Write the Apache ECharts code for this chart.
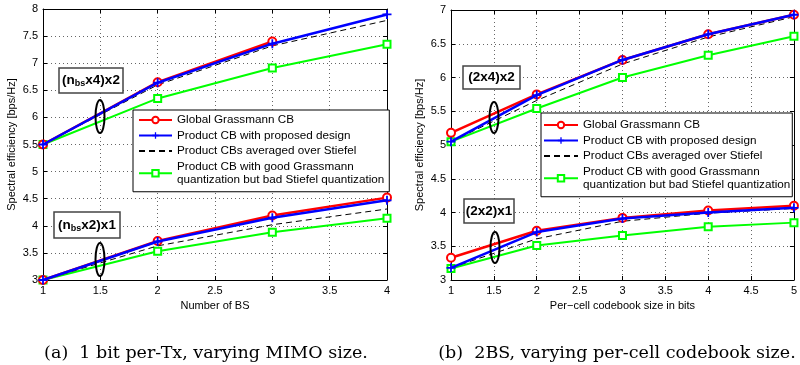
<!DOCTYPE html>
<html><head><meta charset="utf-8">
<script src="https://cdn.jsdelivr.net/npm/echarts@6/dist/echarts.min.js"></script>
<style>html,body{margin:0;padding:0;background:#fff}#c{width:800px;height:365px}</style>
</head><body><div id="c"></div>
<script>
// ---- data ----
const xBS = [1, 2, 3, 4];
const xBits = [1, 2, 3, 4, 5];

// (a) varying number of BS
const globalA_hi = [5.5, 6.65, 7.40];
const productA_hi = [5.5, 6.64, 7.36, 7.90];
const stiefelA_hi = [5.5, 6.60, 7.32, 7.79];
const badA_hi = [5.5, 6.35, 6.91, 7.35];
const globalA_lo = [3.0, 3.72, 4.19, 4.52];
const productA_lo = [3.0, 3.71, 4.15, 4.47];
const stiefelA_lo = [3.0, 3.63, 4.02, 4.31];
const badA_lo = [3.0, 3.53, 3.88, 4.14];

// (b) varying per-cell codebook size
const globalB_hi = [5.18, 5.75, 6.26, 6.64, 6.93];
const productB_hi = [5.05, 5.74, 6.26, 6.64, 6.93];
const stiefelB_hi = [5.05, 5.66, 6.20, 6.60, 6.90];
const badB_hi = [5.05, 5.54, 6.00, 6.33, 6.61];
const globalB_lo = [3.33, 3.73, 3.92, 4.03, 4.10];
const productB_lo = [3.18, 3.71, 3.91, 4.00, 4.07];
const stiefelB_lo = [3.18, 3.61, 3.87, 3.99, 4.06];
const badB_lo = [3.17, 3.51, 3.66, 3.79, 3.85];

const names = [
  'Global Grassmann CB',
  'Product CB with proposed design',
  'Product CBs averaged over Stiefel',
  'Product CB with good Grassmann quantization but bad Stiefel quantization'
];
const legendLabels = [
  'Global Grassmann CB',
  'Product CB with proposed design',
  'Product CBs averaged over Stiefel',
  'Product CB with good Grassmann\nquantization but bad Stiefel quantization'
];
const yTicksA = {min: 3, max: 8, interval: 0.5};
const yTicksB = {min: 3, max: 7, interval: 0.5};
const xTicksA = {min: 1, max: 4, interval: 0.5};
const xTicksB = {min: 1, max: 5, interval: 0.5};
const xNameA = 'Number of BS';
const xNameB = 'Per\u2212cell codebook size in bits';
const yName = 'Spectral efficiency [bps/Hz]';
const captionA = '(a)  1 bit per-Tx, varying MIMO size.';
const captionB = '(b)  2BS, varying per-cell codebook size.';

// ---- styling ----
const FONT = 'Liberation Sans, Arial, Helvetica, sans-serif';
const plusPath = 'path://M4,0H6V4H10V6H6V10H4V6H0V4H4Z';
const styles = [
  {color: '#ff0000', lineStyle: {width: 2.5, color: '#ff0000'}, symbol: 'emptyCircle', symbolSize: 8, itemStyle: {color: '#ff0000', borderColor: '#ff0000', borderWidth: 2}, z: 4},
  {color: '#0000ff', lineStyle: {width: 2.5, color: '#0000ff'}, symbol: plusPath, symbolSize: 9, itemStyle: {color: '#0000ff', borderWidth: 0}, z: 5},
  {color: '#000000', lineStyle: {width: 1, type: [6, 4], color: '#000'}, symbol: 'none', symbolSize: 0, itemStyle: {color: '#000'}, z: 3},
  {color: '#00ff00', lineStyle: {width: 2, color: '#00ff00'}, symbol: 'emptyRect', symbolSize: 7, itemStyle: {color: '#00ff00', borderColor: '#00ff00', borderWidth: 1.5}, z: 2}
];

function zip(xs, ys) { return ys.map((y, i) => [xs[i], y]); }
function mk(k, xs, ys, idx) {
  const s = styles[k];
  return Object.assign({
    type: 'line', name: names[k], xAxisIndex: idx, yAxisIndex: idx,
    data: zip(xs, ys), clip: false, showSymbol: s.symbol !== 'none',
    emphasis: {disabled: true}
  }, JSON.parse(JSON.stringify(s)), {symbol: s.symbol});
}

const series = [
  mk(0, xBS, globalA_hi, 0), mk(1, xBS, productA_hi, 0), mk(2, xBS, stiefelA_hi, 0), mk(3, xBS, badA_hi, 0),
  mk(0, xBS, globalA_lo, 0), mk(1, xBS, productA_lo, 0), mk(2, xBS, stiefelA_lo, 0), mk(3, xBS, badA_lo, 0),
  mk(0, xBits, globalB_hi, 1), mk(1, xBits, productB_hi, 1), mk(2, xBits, stiefelB_hi, 1), mk(3, xBits, badB_hi, 1),
  mk(0, xBits, globalB_lo, 1), mk(1, xBits, productB_lo, 1), mk(2, xBits, stiefelB_lo, 1), mk(3, xBits, badB_lo, 1)
];

const axisLabel = {color: '#000', fontSize: 11, fontFamily: FONT, margin: 5};
const axisLine = {show: true, onZero: false, lineStyle: {color: '#000', width: 1}};
const axisTick = {show: true, inside: true, length: 4, lineStyle: {color: '#000'}};
const splitLine = {show: true, lineStyle: {color: '#666', width: 1, type: [1, 3]}};

function xMain(t, g, name) {
  return Object.assign({type: 'value', gridIndex: g, position: 'bottom', name: name, nameLocation: 'middle', nameGap: 16,
    nameTextStyle: {color: '#000', fontSize: 11, fontFamily: FONT},
    axisLabel, axisLine, axisTick, splitLine}, t);
}
function yMain(t, g) {
  return Object.assign({type: 'value', gridIndex: g, position: 'left', name: yName, nameLocation: 'middle', nameGap: 26,
    nameTextStyle: {color: '#000', fontSize: 11, fontFamily: FONT},
    axisLabel, axisLine, axisTick, splitLine}, t);
}
function mirror(t, g, pos) {
  return Object.assign({type: 'value', gridIndex: g, position: pos, axisLabel: {show: false}, axisLine, axisTick, splitLine: {show: false}}, t);
}

function legendFor(left, top, padding, itemWidth) {
  return {
    orient: 'vertical', left: left, top: top,
    data: names.map((n, i) => i === 2 ? {name: n, itemStyle: {opacity: 0}} : {name: n}),
    backgroundColor: '#fff', borderColor: '#000', borderWidth: 1,
    padding: padding, itemGap: 2, itemWidth: itemWidth, itemHeight: 8,
    selectedMode: false,
    textStyle: {color: '#000', fontSize: 11.7, fontFamily: FONT, lineHeight: 13.5},
    formatter: (n) => legendLabels[names.indexOf(n)]
  };
}

const chart = echarts.init(document.getElementById('c'), null, {renderer: 'canvas'});
chart.setOption({
  animation: false,
  backgroundColor: '#fff',
  grid: [
    {left: 43, right: 413, top: 9, bottom: 85},
    {left: 451, right: 4, top: 10, bottom: 85}
  ],
  xAxis: [xMain(xTicksA, 0, xNameA), xMain(xTicksB, 1, xNameB), mirror(xTicksA, 0, 'top'), mirror(xTicksB, 1, 'top')],
  yAxis: [yMain(yTicksA, 0), yMain(yTicksB, 1), mirror(yTicksA, 0, 'right'), mirror(yTicksB, 1, 'right')],
  legend: [legendFor(133, 110, [3.25, 5, 5, 5], 33), legendFor(541, 113, [5.25, 2, 5, 2], 34)],
  series: series
});

// annotations
function label(x, y, w, h, text) {
  return [
    {type: 'rect', shape: {x: x, y: y, width: w, height: h}, style: {fill: '#fff', stroke: '#444', lineWidth: 1.5}, z: 100},
    {type: 'text', x: x + w / 2, y: y + h / 2, z: 101, style: {text: text, align: 'center', verticalAlign: 'middle',
      rich: {m: {fontSize: 13.5, fontWeight: 'bold', fontFamily: FONT, lineHeight: 16, fill: '#000'},
             s: {fontSize: 9, fontWeight: 'bold', fontFamily: FONT, lineHeight: 9, verticalAlign: 'bottom', fill: '#000'}}}}
  ];
}
function ell(cx, cy, ry) {
  return {type: 'ellipse', shape: {cx: cx, cy: cy, rx: 4.5, ry: ry}, style: {fill: 'none', stroke: '#000', lineWidth: 2}, z: 100};
}
const capStyle = {align: 'center', verticalAlign: 'middle', fontSize: 17.5, fontFamily: 'DejaVu Serif, serif', fill: '#000'};
const g = [].concat(
  label(59, 68, 64, 25, '{m|(n}{s|bs}{m|x4)x2}'),
  label(54, 212, 66, 26, '{m|(n}{s|bs}{m|x2)x1}'),
  label(463, 66, 57, 23, '{m|(2x4)x2}'),
  label(464, 199, 50, 24, '{m|(2x2)x1}'),
  [ell(100, 116.5, 16.5), ell(100, 259.5, 16.5), ell(494, 117.5, 15.5), ell(495, 247.5, 15.5),
   {type: 'text', x: 206, y: 353, style: Object.assign({text: captionA}, capStyle)},
   {type: 'text', x: 617, y: 353, style: Object.assign({text: captionB}, capStyle)}]
);
chart.setOption({graphic: g});
</script>
</body></html>
